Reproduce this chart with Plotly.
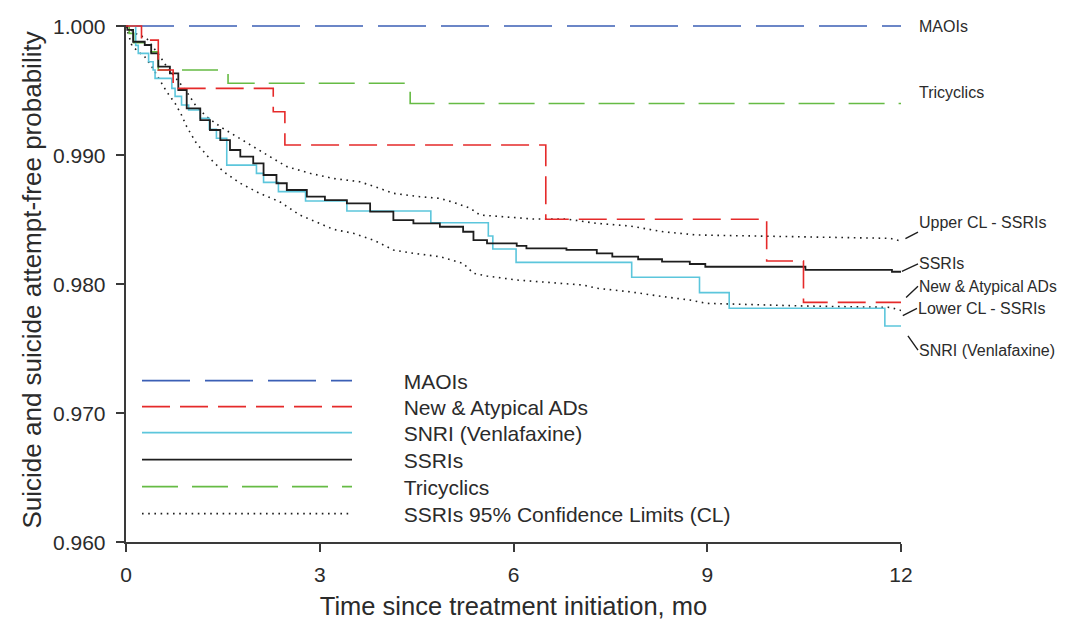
import plotly.graph_objects as go

# ---------------- data ----------------
maoi_t = [0, 12.0]
maoi_v = [1.0, 1.0]

new_t = [0, 0.24, 0.50, 0.73, 2.28, 2.46, 6.50, 9.92, 10.49, 12.0]
new_v = [1.0, 0.99891, 0.99659, 0.99517, 0.99336, 0.99078, 0.98502, 0.98178, 0.97858, 0.97858]

snri_t = [0, 0.15, 0.19, 0.35, 0.42, 0.45, 0.71, 0.76, 0.86, 0.97, 1.15, 1.29, 1.40, 1.56,
          2.02, 2.13, 2.36, 2.78, 3.42, 4.72, 5.61, 5.68, 6.04, 7.83, 8.88, 9.34, 11.75, 12.0]
snri_v = [1.0, 0.9985, 0.99788, 0.99723, 0.99659, 0.99594, 0.99517, 0.99455, 0.99388, 0.99349,
          0.99285, 0.99200, 0.99130, 0.98922, 0.98858, 0.98788, 0.98716, 0.98643, 0.98566,
          0.98475, 0.98372, 0.98271, 0.98168, 0.98052, 0.97933, 0.97812, 0.97674, 0.97674]

ssri_t = [0, 0.02, 0.11, 0.29, 0.39, 0.50, 0.68, 0.81, 0.94, 1.15, 1.30, 1.46, 1.61, 1.77,
          1.97, 2.13, 2.33, 2.49, 2.80, 3.08, 3.42, 3.78, 4.14, 4.45, 4.86, 5.22, 5.38, 5.59,
          6.05, 6.20, 6.82, 7.29, 7.53, 7.93, 8.30, 8.73, 8.97, 10.52, 11.86, 12.0]
ssri_v = [1.0, 0.9997, 0.99878, 0.99853, 0.99788, 0.99685, 0.99633, 0.99504, 0.99362, 0.99271,
          0.99194, 0.99116, 0.99039, 0.98987, 0.98936, 0.98845, 0.98781, 0.98729, 0.98677,
          0.98651, 0.98625, 0.98561, 0.98496, 0.98470, 0.98444, 0.98405, 0.98341, 0.98315,
          0.98295, 0.98277, 0.98264, 0.98238, 0.98212, 0.98192, 0.98173, 0.98155, 0.98134,
          0.98109, 0.98095, 0.98095]

tca_t = [0, 0.05, 0.12, 0.33, 0.50, 1.58, 4.40, 12.0]
tca_v = [1.0, 0.99943, 0.99870, 0.99800, 0.99659, 0.99556, 0.99400, 0.99400]

upper_t = [0, 0.14, 0.32, 0.42, 0.53, 0.63, 0.76, 0.94, 1.09, 1.25, 1.46, 1.71, 1.97, 2.23,
           2.49, 2.69, 2.85, 3.21, 3.62, 3.93, 4.14, 4.55, 4.86, 5.12, 5.33, 5.48, 5.79, 6.31,
           6.82, 7.29, 7.80, 8.32, 8.84, 9.61, 10.54, 11.83, 12.0]
upper_v = [1.0, 0.99943, 0.99905, 0.99840, 0.99762, 0.99685, 0.99607, 0.99491, 0.99375,
           0.99297, 0.99219, 0.99142, 0.99065, 0.98987, 0.98910, 0.98884, 0.98858, 0.98818,
           0.98793, 0.98741, 0.98703, 0.98677, 0.98664, 0.98625, 0.98587, 0.98535, 0.98522,
           0.98504, 0.98504, 0.98470, 0.98450, 0.98405, 0.98380, 0.98372, 0.98362, 0.98354,
           0.98333]

lower_t = [0, 0.09, 0.19, 0.29, 0.40, 0.53, 0.63, 0.76, 0.86, 0.94, 1.09, 1.27, 1.51, 1.77,
           2.07, 2.38, 2.69, 2.95, 3.21, 3.52, 3.83, 4.14, 4.45, 4.86, 5.22, 5.38, 5.59, 6.05,
           6.57, 7.08, 7.29, 7.80, 8.32, 8.73, 8.99, 10.54, 11.83, 12.0]
lower_v = [1.0, 0.99850, 0.99800, 0.99762, 0.99685, 0.99581, 0.99491, 0.99401, 0.99310,
           0.99220, 0.99091, 0.98987, 0.98871, 0.98781, 0.98703, 0.98638, 0.98535, 0.98480,
           0.98424, 0.98393, 0.98341, 0.98264, 0.98238, 0.98212, 0.98160, 0.98083, 0.98062,
           0.98031, 0.98013, 0.97992, 0.97967, 0.97940, 0.97902, 0.97876, 0.97850, 0.97829,
           0.97819, 0.97795]

x_ticks = [0, 3, 6, 9, 12]
y_ticks = [0.960, 0.970, 0.980, 0.990, 1.000]

legend_names = ["MAOIs", "New & Atypical ADs", "SNRI (Venlafaxine)", "SSRIs", "Tricyclics",
                "SSRIs 95% Confidence Limits (CL)"]
end_labels = ["MAOIs", "Tricyclics", "Upper CL - SSRIs", "SSRIs", "New & Atypical ADs",
              "Lower CL - SSRIs", "SNRI (Venlafaxine)"]
x_title = "Time since treatment initiation, mo"
y_title = "Suicide and suicide attempt-free probability"

# ---------------- styling ----------------
FONT = "Liberation Sans, Arial, sans-serif"
TXT = "#2b2b2b"
AX = "#3a3a3a"
C_BLUE = "#3b5fb5"
C_RED = "#e52a2a"
C_CYAN = "#5cc6dc"
C_BLACK = "#1e1e1e"
C_GREEN = "#66bb44"

# the page body adds an 8px offset, so the figure is 8px smaller than the window
W, H = 1059, 614
PLOT_L, PLOT_R = 118, 893          # figure coords (page 126 .. 901)
PLOT_TOP, PLOT_BOTTOM = 17, 534    # figure coords (page 25 .. 542)
PLOT_W = PLOT_R - PLOT_L
PLOT_H = PLOT_BOTTOM - PLOT_TOP

PAD = "\u00a0" * 8
rows_y = [373, 399, 425, 452, 479, 506]  # legend row centres, figure px

fig = go.Figure()

def add(t, v, name, color, width, dash, leg, shape="hv", show=True, group=None):
    fig.add_trace(go.Scatter(
        x=t, y=v, mode="lines", name=PAD + name,
        line=dict(color=color, width=width, dash=dash, shape=shape),
        legend=leg, showlegend=show, legendgroup=group or name, hoverinfo="skip"))

add(upper_t, upper_v, legend_names[5], C_BLACK, 1.6, "1.6px,4.6px", "legend6",
    shape="linear", group="cl")
add(lower_t, lower_v, legend_names[5], C_BLACK, 1.6, "1.6px,4.6px", "legend6",
    shape="linear", show=False, group="cl")
add(tca_t, tca_v, legend_names[4], C_GREEN, 1.6, "36px,14px", "legend5")
add(maoi_t, maoi_v, legend_names[0], C_BLUE, 1.6, "48px,15px", "legend")
add(snri_t, snri_v, legend_names[2], C_CYAN, 1.6, "solid", "legend3")
add(ssri_t, ssri_v, legend_names[3], C_BLACK, 1.8, "solid", "legend4")
add(new_t, new_v, legend_names[1], C_RED, 1.6, "28px,10px", "legend2")

legend_keys = ["legend", "legend2", "legend3", "legend4", "legend5", "legend6"]
legend_cfg = {}
for key, ry in zip(legend_keys, rows_y):
    legend_cfg[key] = dict(
        x=11 / PLOT_W, xanchor="left", y=(PLOT_BOTTOM - ry) / PLOT_H, yanchor="middle",
        bgcolor="rgba(0,0,0,0)", borderwidth=0, itemwidth=210,
        font=dict(family=FONT, size=21, color=TXT), itemclick=False, itemdoubleclick=False)

# right-hand end labels
ann = []
lab_font = dict(family=FONT, size=16, color=TXT)
ann.append(dict(x=12, y=maoi_v[-1], xref="x", yref="y", text=end_labels[0], showarrow=False,
                xanchor="left", yanchor="middle", xshift=16, font=lab_font))
ann.append(dict(x=12, y=tca_v[-1], xref="x", yref="y", text=end_labels[1], showarrow=False,
                xanchor="left", yanchor="middle", xshift=16, yshift=11, font=lab_font))

def leader(val, text, ax, ay, yanchor="middle", standoff=0, yshift=0, size=16):
    ann.append(dict(x=12, y=val, xref="x", yref="y", text=text, showarrow=True,
                    arrowhead=0, arrowwidth=1.4, arrowcolor=C_BLACK, ax=ax, ay=ay,
                    xanchor="left", yanchor=yanchor, standoff=standoff, yshift=yshift,
                    font=dict(family=FONT, size=size, color=TXT), borderpad=0))

leader(upper_v[-1], end_labels[2], 17, -9, yanchor="bottom", standoff=5)
leader(ssri_v[-1], end_labels[3], 17, -8, standoff=1)
leader(new_v[-1], end_labels[4], 17, -16, standoff=7, size=15.7)
leader(lower_v[-1], end_labels[5], 16, -8, standoff=2, yshift=-6)
leader(snri_v[-1], end_labels[6], 17, 24, standoff=12)

# y tick labels (placed 19px left of the axis line, as in the reference)
for v in y_ticks:
    ann.append(dict(x=0, y=v, xref="paper", yref="y", text=f"{v:.3f}", showarrow=False,
                    xanchor="right", yanchor="middle", xshift=-18,
                    font=dict(family=FONT, size=21, color=TXT)))

# y axis title (rotated text left of the tick labels)
ann.append(dict(x=0, y=0.5, xref="paper", yref="paper", text=y_title, showarrow=False,
                textangle=-90, xanchor="center", yanchor="middle", xshift=-95, yshift=3,
                font=dict(family=FONT, size=26, color=TXT)))

fig.update_layout(
    width=W, height=H,
    margin=dict(l=PLOT_L, r=W - PLOT_R, t=PLOT_TOP, b=H - PLOT_BOTTOM, pad=0,
                autoexpand=False),
    paper_bgcolor="white", plot_bgcolor="white",
    font=dict(family=FONT, color=TXT),
    annotations=ann,
    **legend_cfg,
)

fig.update_xaxes(
    range=[0, 12], tickvals=x_ticks, ticktext=[str(v) for v in x_ticks], automargin=False,
    showline=True, linecolor=AX, linewidth=1.5, ticks="outside", ticklen=8, tickwidth=1.5,
    tickcolor=AX, showgrid=False, zeroline=False, ticklabelstandoff=5,
    tickfont=dict(family=FONT, size=21, color=TXT),
    title=dict(text=x_title, standoff=12, font=dict(family=FONT, size=25.5, color=TXT)))
fig.update_yaxes(
    range=[0.96, 1.00008], tickvals=y_ticks, showticklabels=False, automargin=False,
    showline=True, linecolor=AX, linewidth=1.5, ticks="outside", ticklen=8, tickwidth=1.5,
    tickcolor=AX, showgrid=False, zeroline=False)

fig.write_html("out.html")
